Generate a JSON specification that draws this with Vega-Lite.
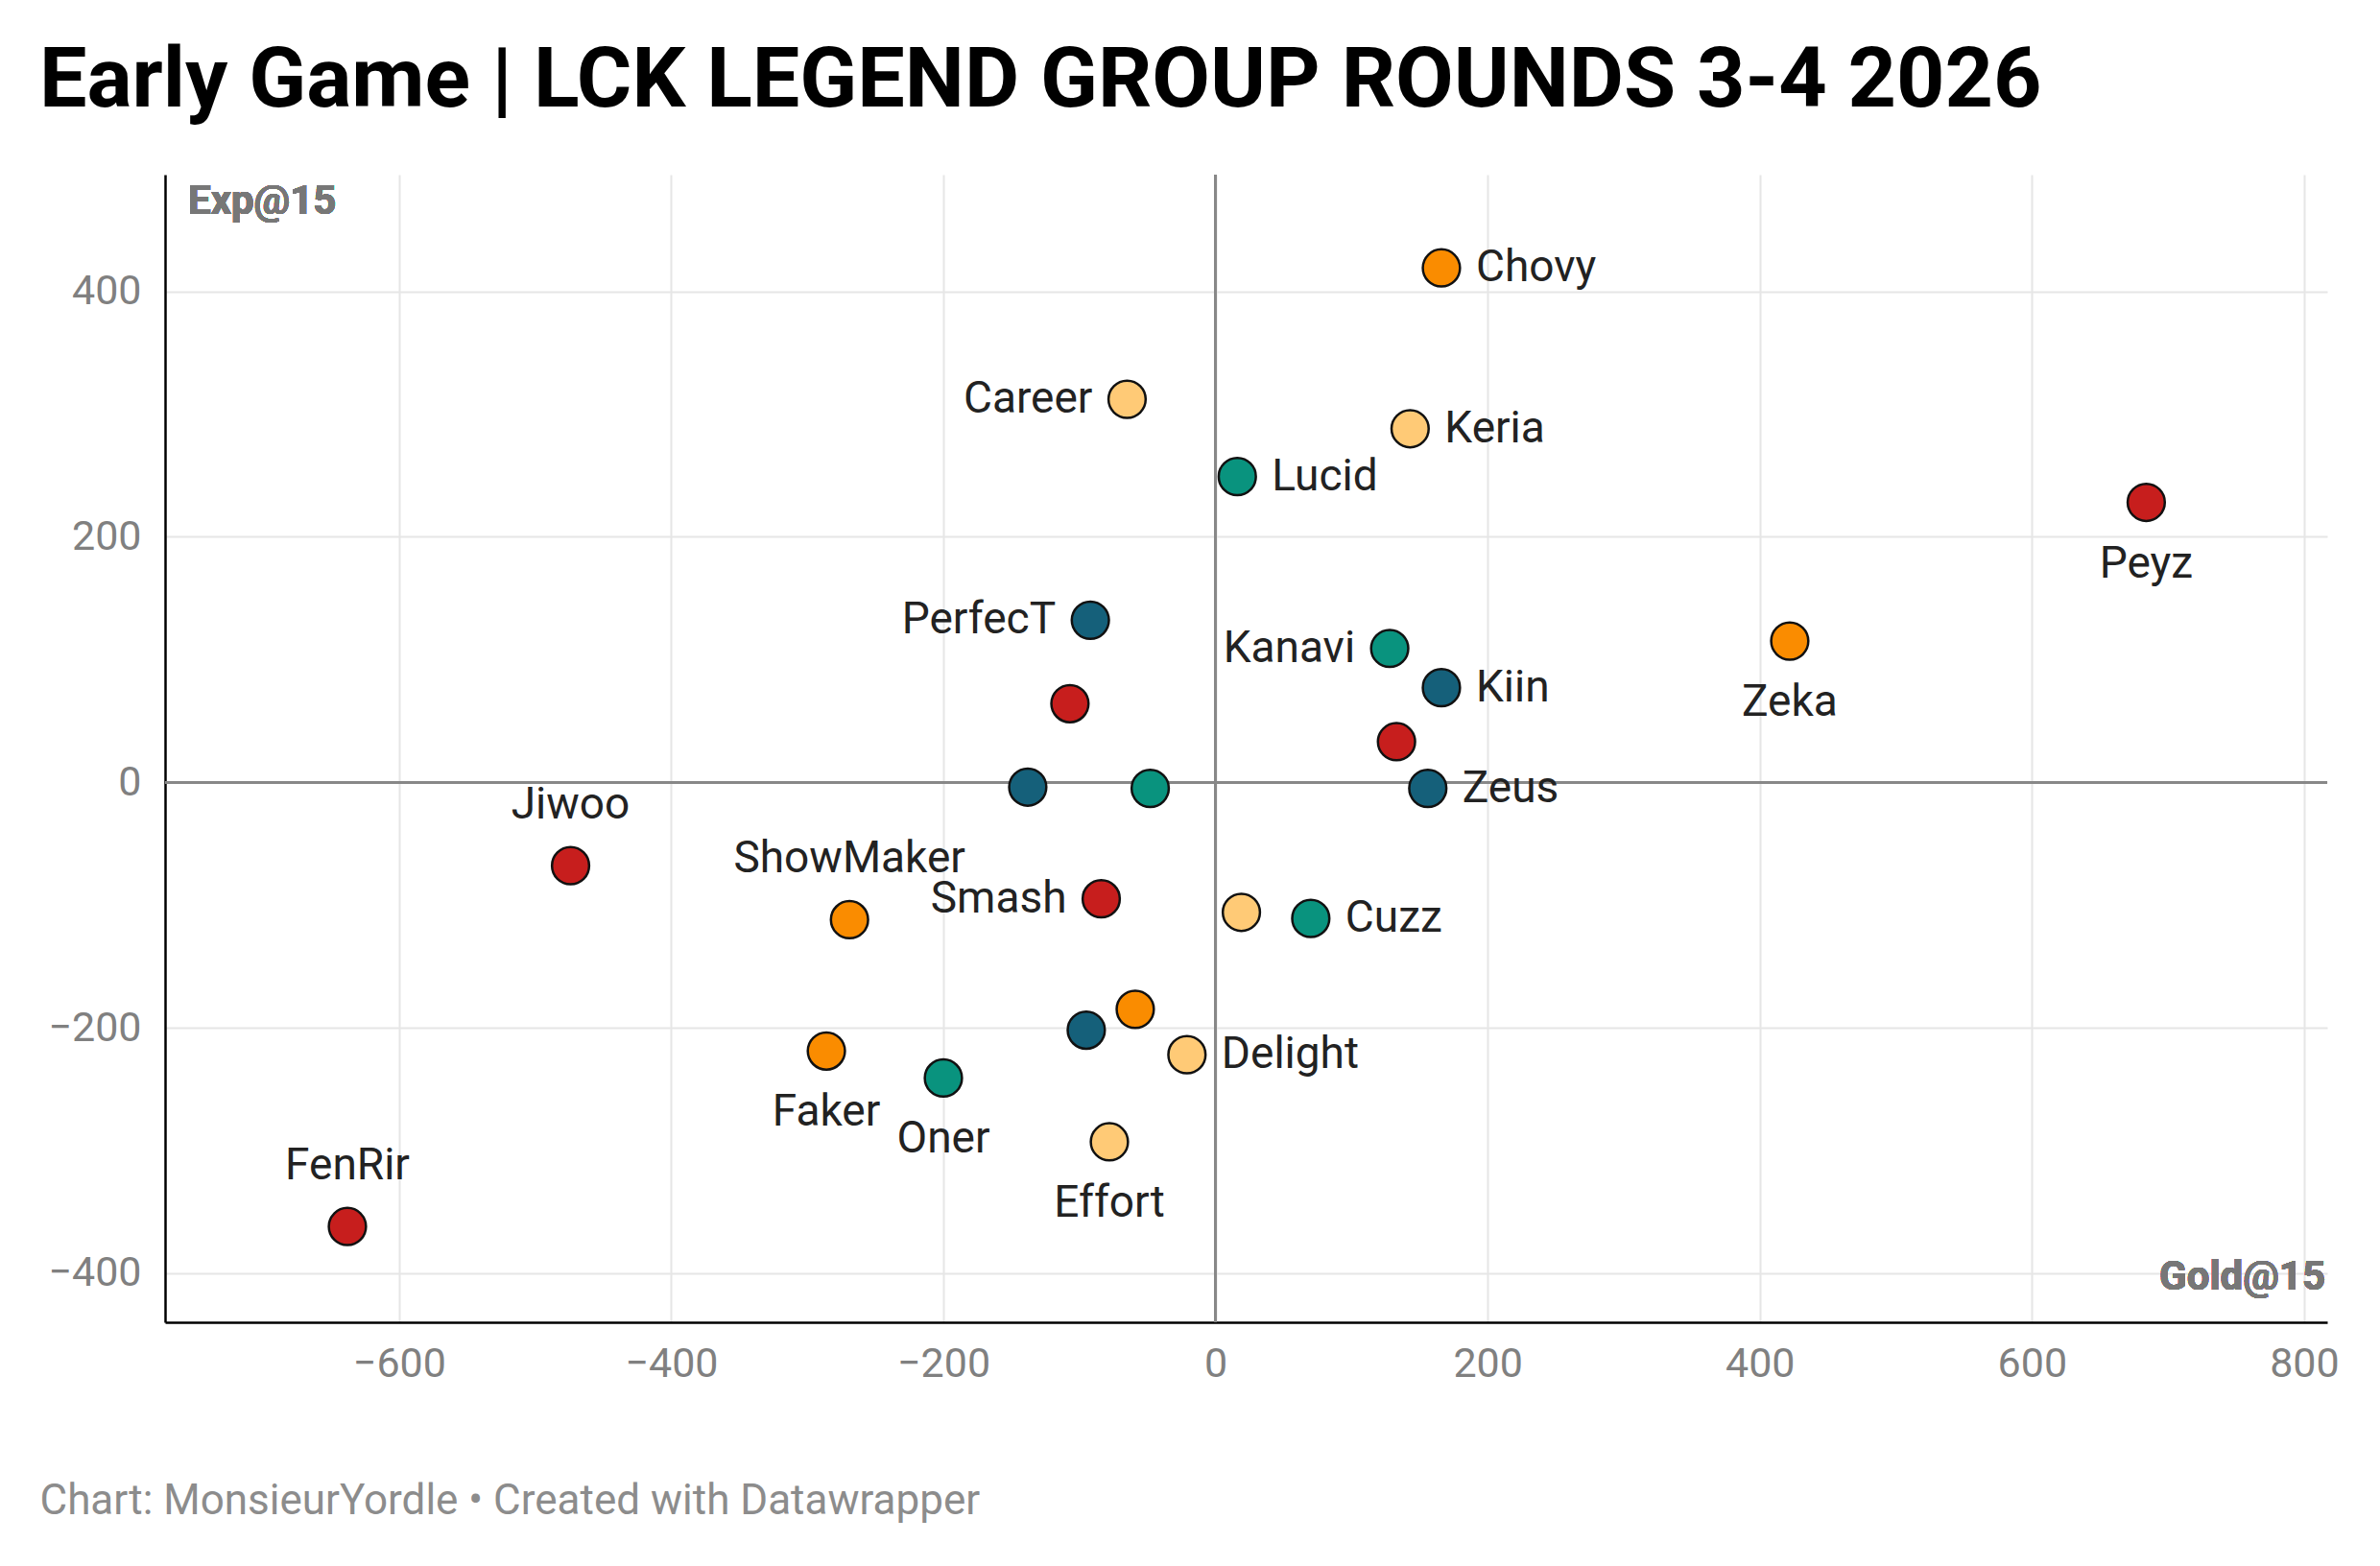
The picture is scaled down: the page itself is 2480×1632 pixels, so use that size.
{
  "$schema": "https://vega.github.io/schema/vega-lite/v6.json",
  "width": 2253,
  "height": 1196,
  "autosize": "none",
  "padding": {"left": 172, "top": 182, "right": 55, "bottom": 254},
  "background": "white",
  "config": {
    "font": "Roboto",
    "view": {"stroke": null},
    "axis": {"grid": true, "gridColor": "#e6e6e6", "gridWidth": 2, "ticks": false, "labelFont": "Roboto", "labelFontSize": 43, "labelColor": "#808080", "domainColor": "#000000", "domainWidth": 2.5}
  },
  "title": {"text": "Early Game | LCK LEGEND GROUP ROUNDS 3-4 2026", "anchor": "start", "frame": "group", "dx": -131, "offset": 52, "fontSize": 88, "fontWeight": "bold", "font": "Roboto", "color": "#000000"},
  "data": {"values": [
    {"name": "Chovy", "x": 166, "y": 419, "g": "orange"},
    {"name": "Career", "x": -65, "y": 312, "g": "light"},
    {"name": "Keria", "x": 143, "y": 288, "g": "light"},
    {"name": "Lucid", "x": 16, "y": 249, "g": "green"},
    {"name": "Peyz", "x": 684, "y": 228, "g": "red"},
    {"name": "PerfecT", "x": -92, "y": 132, "g": "blue"},
    {"name": "Kanavi", "x": 128, "y": 109, "g": "green"},
    {"name": "Zeka", "x": 422, "y": 115, "g": "orange"},
    {"name": "Kiin", "x": 166, "y": 77, "g": "blue"},
    {"name": "", "x": -107, "y": 64, "g": "red"},
    {"name": "", "x": 133, "y": 33, "g": "red"},
    {"name": "", "x": -138, "y": -4, "g": "blue"},
    {"name": "", "x": -48, "y": -5, "g": "green"},
    {"name": "Zeus", "x": 156, "y": -5, "g": "blue"},
    {"name": "Jiwoo", "x": -474, "y": -68, "g": "red"},
    {"name": "ShowMaker", "x": -269, "y": -112, "g": "orange"},
    {"name": "Smash", "x": -84, "y": -95, "g": "red"},
    {"name": "", "x": 19, "y": -106, "g": "light"},
    {"name": "Cuzz", "x": 70, "y": -111, "g": "green"},
    {"name": "", "x": -59, "y": -185, "g": "orange"},
    {"name": "", "x": -95, "y": -202, "g": "blue"},
    {"name": "Faker", "x": -286, "y": -219, "g": "orange"},
    {"name": "Delight", "x": -21, "y": -222, "g": "light"},
    {"name": "Oner", "x": -200, "y": -241, "g": "green"},
    {"name": "Effort", "x": -78, "y": -293, "g": "light"},
    {"name": "FenRir", "x": -638, "y": -362, "g": "red"}
  ]},
  "encoding": {
    "x": {"field": "x", "type": "quantitative", "scale": {"domain": [-772, 817], "nice": false, "zero": false},
      "axis": {"values": [-600, -400, -200, 0, 200, 400, 600, 800], "labelPadding": 22, "domain": true, "orient": "bottom",
        "title": "Chart: MonsieurYordle • Created with Datawrapper", "titleX": -131, "titleY": 186, "titleAlign": "left", "titleAnchor": "start", "titleBaseline": "middle", "titleFontSize": 44, "titleFontWeight": "normal", "titleColor": "#8c8c8c", "titleFont": "Roboto"}},
    "y": {"field": "y", "type": "quantitative", "scale": {"domain": [-440, 495], "nice": false, "zero": false},
      "axis": {"values": [-400, -200, 0, 200, 400], "labelPadding": 25, "title": null}}
  },
  "layer": [
    {"mark": {"type": "rule", "color": "#888888", "strokeWidth": 2.5}, "encoding": {"x": {"datum": 0}, "y": null}},
    {"mark": {"type": "rule", "color": "#888888", "strokeWidth": 2.5}, "encoding": {"y": {"datum": 0}, "x": null}},
    {"mark": {"type": "circle", "opacity": 1, "stroke": "#111111"},
      "encoding": {
        "color": {"field": "g", "type": "nominal", "legend": null, "scale": {"domain": ["red", "orange", "light", "green", "blue"], "range": ["#c71e1d", "#fa8c00", "#ffca76", "#09937e", "#15607a"]}},
        "size": {"value": 1500},
        "strokeWidth": {"condition": {"test": "datum.name == ''", "value": 0}, "value": 2.5}
      }},
    {"transform": [{"filter": {"field": "name", "oneOf": ["Chovy", "Keria", "Lucid", "Kiin", "Zeus", "Cuzz", "Delight"]}}],
      "mark": {"type": "text", "align": "left", "baseline": "middle", "dx": 36, "fontSize": 46, "color": "#222222"},
      "encoding": {"text": {"field": "name"}}},
    {"transform": [{"filter": {"field": "name", "oneOf": ["Career", "PerfecT", "Kanavi", "Smash"]}}],
      "mark": {"type": "text", "align": "right", "baseline": "middle", "dx": -36, "fontSize": 46, "color": "#222222"},
      "encoding": {"text": {"field": "name"}}},
    {"transform": [{"filter": {"field": "name", "oneOf": ["Peyz", "Zeka", "Faker", "Oner", "Effort"]}}],
      "mark": {"type": "text", "align": "center", "baseline": "middle", "dy": 64, "fontSize": 46, "color": "#222222"},
      "encoding": {"text": {"field": "name"}}},
    {"transform": [{"filter": {"field": "name", "oneOf": ["Jiwoo", "ShowMaker", "FenRir"]}}],
      "mark": {"type": "text", "align": "center", "baseline": "middle", "dy": -63, "fontSize": 46, "color": "#222222"},
      "encoding": {"text": {"field": "name"}}},
    {"mark": {"type": "text", "align": "left", "baseline": "middle", "dx": 24, "dy": 28, "fontSize": 42, "fontWeight": "bold", "color": "#777777", "text": "Exp@15"},
      "encoding": {"x": {"datum": -772}, "y": {"datum": 495}}},
    {"mark": {"type": "text", "align": "right", "baseline": "middle", "dx": -2, "dy": -47, "fontSize": 42, "fontWeight": "bold", "color": "#777777", "text": "Gold@15"},
      "encoding": {"x": {"datum": 817}, "y": {"datum": -440}}}
  ]
}
